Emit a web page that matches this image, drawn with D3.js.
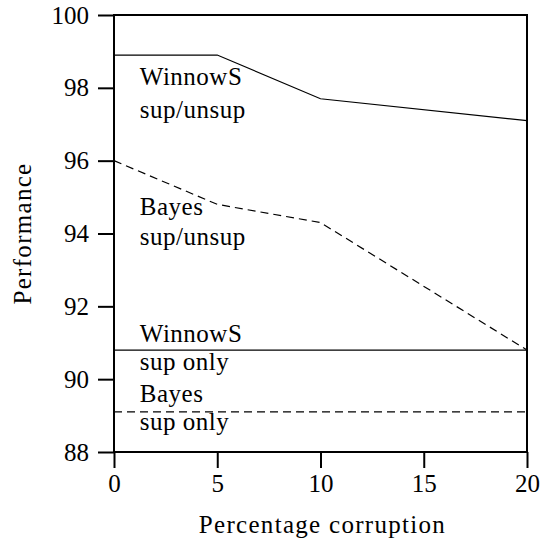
<!DOCTYPE html>
<html>
<head>
<meta charset="utf-8">
<script src="https://cdn.jsdelivr.net/npm/d3@7"></script>
<style>
  body { margin: 0; background: #fff; }
  svg { display: block; }
  text { font-family: "Liberation Serif", "DejaVu Serif", serif; }
</style>
</head>
<body>
<div id="chart"></div>
<script>
// Performance vs. percentage corruption, four learners

const corruption = [0, 5, 10, 20];
const winnowSupUnsup = [98.9, 98.9, 97.7, 97.1];
const bayesSupUnsup = [96.0, 94.8, 94.3, 90.8];
const winnowSupOnly = [90.8, 90.8, 90.8, 90.8];
const bayesSupOnly = [89.1, 89.1, 89.1, 89.1];

const xTicks = [0, 5, 10, 15, 20];
const yTicks = [88, 90, 92, 94, 96, 98, 100];

// text labels next to the lines, in data units
const labels = [
  { text: "WinnowS", x: 1.25, y: 98.08 },
  { text: "sup/unsup", x: 1.25, y: 97.17 },
  { text: "Bayes", x: 1.25, y: 94.5 },
  { text: "sup/unsup", x: 1.25, y: 93.68 },
  { text: "WinnowS", x: 1.25, y: 91.02 },
  { text: "sup only", x: 1.25, y: 90.25 },
  { text: "Bayes", x: 1.25, y: 89.37 },
  { text: "sup only", x: 1.25, y: 88.6 },
];

const series = [
  { values: winnowSupUnsup, dash: null },
  { values: bayesSupUnsup, dash: "8,5" },
  { values: winnowSupOnly, dash: null },
  { values: bayesSupOnly, dash: "8,5" },
];

const width = 543;
const height = 542;
const margin = { top: 15, right: 15, bottom: 90, left: 114 };

const svg = d3
  .select("#chart")
  .append("svg")
  .attr("width", width)
  .attr("height", height)
  .attr("font-family", "Liberation Serif, DejaVu Serif, serif");

const x = d3
  .scaleLinear()
  .domain([0, 20])
  .range([margin.left, width - margin.right - 1]);

const y = d3
  .scaleLinear()
  .domain([88, 100])
  .range([height - margin.bottom, margin.top]);

// axes
const xAxis = svg
  .append("g")
  .attr("transform", "translate(0," + y(88) + ")")
  .call(d3.axisBottom(x).tickValues(xTicks).tickSize(16).tickPadding(6).tickFormat(d3.format("d")));

const yAxis = svg
  .append("g")
  .attr("transform", "translate(" + x(0) + ",0)")
  .call(d3.axisLeft(y).tickValues(yTicks).tickSize(16).tickPadding(9).tickFormat(d3.format("d")));

[xAxis, yAxis].forEach((g) => {
  g.attr("font-family", null).attr("font-size", null);
  g.select(".domain").remove();
  g.selectAll(".tick line").attr("stroke", "#000").attr("stroke-width", 2);
  g.selectAll(".tick text").attr("fill", "#000").style("font-size", "25px");
});

// frame
svg
  .append("rect")
  .attr("x", x(0))
  .attr("y", y(100))
  .attr("width", x(20) - x(0))
  .attr("height", y(88) - y(100))
  .attr("fill", "none")
  .attr("stroke", "#000")
  .attr("stroke-width", 2);

// lines
const line = d3
  .line()
  .x((d, i) => x(corruption[i]))
  .y((d) => y(d));

svg
  .append("g")
  .selectAll("path")
  .data(series)
  .join("path")
  .attr("d", (d) => line(d.values))
  .attr("fill", "none")
  .attr("stroke", "#000")
  .attr("stroke-width", 1.2)
  .attr("stroke-dasharray", (d) => d.dash);

// line labels
svg
  .append("g")
  .selectAll("text")
  .data(labels)
  .join("text")
  .attr("x", (d) => x(d.x))
  .attr("y", (d) => y(d.y))
  .style("font-size", "25px")
  .style("letter-spacing", "0.5px")
  .text((d) => d.text);

// axis titles
svg
  .append("text")
  .attr("x", (x(0) + x(20)) / 2 + 2)
  .attr("y", 533)
  .attr("text-anchor", "middle")
  .style("font-size", "25px")
  .style("letter-spacing", "1.3px")
  .text("Percentage corruption");

svg
  .append("text")
  .attr("transform", "translate(31," + (y(88) + y(100)) / 2 + ") rotate(-90)")
  .attr("text-anchor", "middle")
  .style("font-size", "25px")
  .style("letter-spacing", "1.3px")
  .text("Performance");
</script>
</body>
</html>
